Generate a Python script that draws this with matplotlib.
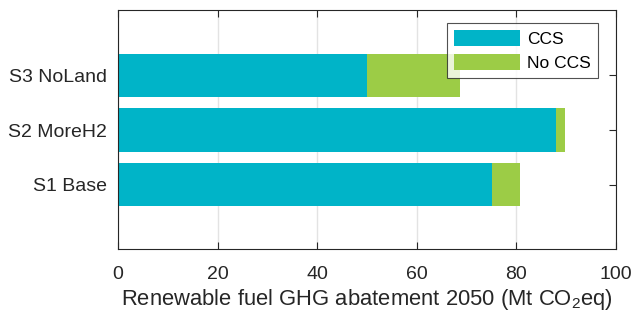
import matplotlib
import numpy as np

matplotlib.use("Agg")
import matplotlib.pyplot as plt

plt.rcParams["font.family"] = ["Liberation Sans", "DejaVu Sans"]
plt.rcParams["mathtext.fontset"] = "custom"
plt.rcParams["mathtext.rm"] = "Liberation Sans"

scenarios = ["S1 Base", "S2 MoreH2", "S3 NoLand"]
ccs = [75, 88, 50]
no_ccs = [5.8, 1.7, 18.7]

cyan = "#00b4c8"
green = "#9ccc46"
dark = "#262626"

fig = plt.figure(figsize=(6.33, 3.13), dpi=100)
ax = fig.add_axes([118 / 633, 1 - 249 / 313, 498 / 633, 239 / 313])

y = np.arange(1, len(scenarios) + 1)
ax.barh(y, ccs, height=0.8, color=cyan, label="CCS", zorder=2)
ax.barh(y, no_ccs, left=ccs, height=0.8, color=green, label="No CCS", zorder=2)

ax.set_xlim(0, 100)
ax.set_ylim(-0.18, 4.2)
ax.set_xticks(np.arange(0, 101, 20))
ax.set_yticks(y)
ax.set_yticklabels(scenarios)
ax.grid(axis="x", color="#e3e3e3", linewidth=1, zorder=0)
ax.tick_params(direction="in", top=True, right=True, length=5,
               colors=dark, width=0.8)
ax.tick_params(axis="x", labelsize=14, pad=12)
ax.tick_params(axis="y", labelsize=14, pad=8)
for s in ax.spines.values():
    s.set_color(dark)
    s.set_linewidth(0.8)
ax.set_xlabel("Renewable fuel GHG abatement 2050 (Mt CO$_\\mathrm{2}$eq)",
              fontsize=15.8, color=dark, labelpad=3)

leg = ax.legend(loc="upper left", bbox_to_anchor=((446.7 - 118) / 498, (249 - 23.3) / 239),
                fontsize=12.5, frameon=True, fancybox=False, edgecolor=dark,
                handlelength=3.85, handleheight=1.05, borderpad=0.4,
                labelspacing=0.4, handletextpad=0.4, borderaxespad=0)
leg.get_frame().set_linewidth(0.8)

fig.savefig("out.png", dpi=100)
plt.close()
